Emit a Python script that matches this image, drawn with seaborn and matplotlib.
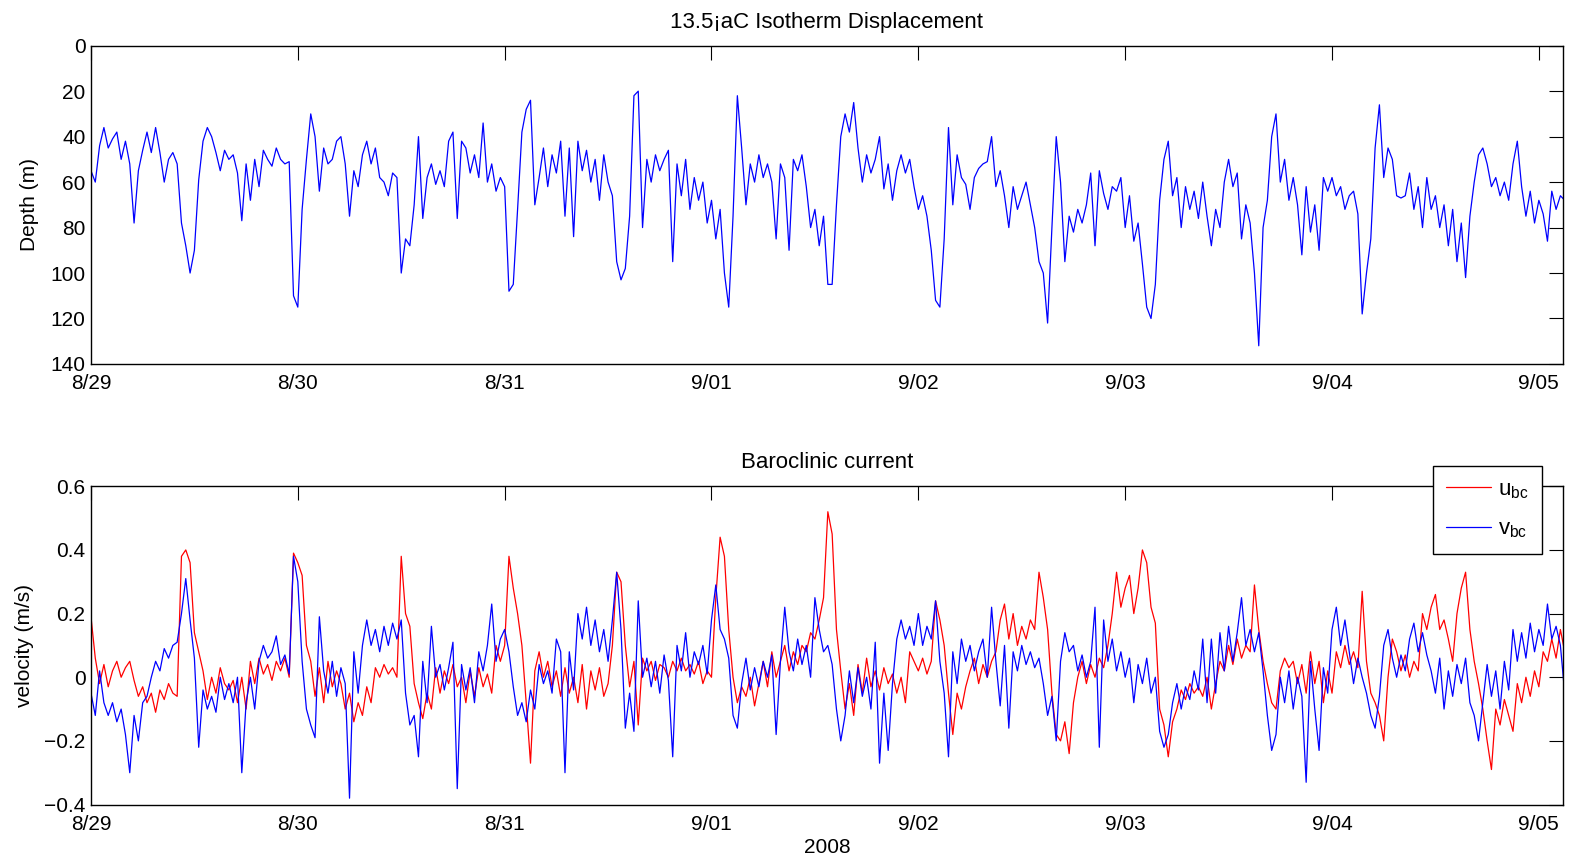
import numpy as np
import pandas as pd
import matplotlib
matplotlib.use("Agg")
import matplotlib.pyplot as plt
import matplotlib.dates as mdates
from matplotlib.ticker import FuncFormatter
import seaborn as sns

# Half-hourly samples starting 2008-08-29 00:00 (one row per day below)
start = "2008-08-29 00:00"
step = "30min"

depth_13p5 = [
    55, 60, 44, 36, 45, 41, 38, 50, 42, 52, 78, 55, 46, 38, 47, 36, 47, 60, 50, 47, 52, 78, 88, 100,
    90, 59, 42, 36, 40, 47, 55, 46, 50, 48, 56, 77, 52, 68, 50, 62, 46, 50, 53, 45, 50, 52, 51, 110,
    115, 72, 50, 30, 40, 64, 45, 52, 50, 42, 40, 52, 75, 55, 62, 48, 42, 52, 45, 58, 60, 66, 56, 58,
    100, 85, 88, 70, 40, 76, 58, 52, 61, 55, 62, 42, 38, 76, 42, 45, 56, 48, 58, 34, 60, 52, 64, 58,
    62, 108, 105, 72, 38, 28, 24, 70, 58, 45, 62, 48, 56, 42, 75, 45, 84, 42, 55, 46, 60, 50, 68, 48,
    60, 66, 95, 103, 98, 75, 22, 20, 80, 50, 60, 48, 55, 50, 46, 95, 52, 66, 50, 72, 58, 68, 60, 78,
    68, 85, 72, 100, 115, 75, 22, 45, 70, 52, 60, 48, 58, 52, 60, 85, 52, 58, 90, 50, 55, 48, 62, 80,
    72, 88, 75, 105, 105, 70, 40, 30, 38, 25, 45, 60, 48, 56, 50, 40, 63, 52, 68, 55, 48, 56, 50, 62,
    72, 66, 75, 90, 112, 115, 85, 36, 70, 48, 58, 61, 72, 58, 54, 52, 51, 40, 62, 55, 66, 80, 62, 72,
    66, 60, 70, 80, 95, 100, 122, 80, 40, 60, 95, 75, 82, 72, 78, 70, 56, 88, 55, 65, 72, 62, 64, 58,
    80, 66, 86, 78, 96, 115, 120, 105, 68, 50, 42, 66, 58, 80, 62, 72, 64, 76, 60, 75, 88, 72, 80, 60,
    50, 62, 56, 85, 70, 78, 100, 132, 80, 68, 40, 30, 60, 50, 68, 58, 70, 92, 62, 82, 70, 90, 58, 64,
    58, 66, 62, 72, 66, 64, 74, 118, 100, 85, 45, 26, 58, 45, 50, 66, 67, 66, 56, 72, 62, 80, 58, 72,
    66, 80, 70, 88, 72, 95, 78, 102, 75, 60, 48, 45, 52, 62, 58, 66, 60, 68, 52, 42, 62, 75, 64, 78,
    68, 74, 86, 64, 72, 66, 68,
]

u_bc = [
    0.19, 0.06, -0.02, 0.04, -0.03, 0.02, 0.05, 0.00, 0.03, 0.05, -0.01, -0.06, -0.03, -0.08, -0.05, -0.11,
    -0.04, -0.07, -0.02, -0.05, -0.06, 0.38, 0.40, 0.36, 0.14, 0.08, 0.02, -0.07, 0.00, -0.05, 0.03, -0.02,
    -0.04, -0.01, -0.08, 0.00, -0.10, 0.05, -0.02, 0.06, 0.01, 0.04, -0.01, 0.05, 0.02, 0.06, 0.00, 0.39,
    0.36, 0.32, 0.10, 0.05, -0.06, 0.03, -0.08, 0.05, -0.03, 0.02, -0.02, -0.10, -0.05, -0.14, -0.08, -0.12,
    -0.03, -0.08, 0.03, 0.00, 0.04, 0.01, 0.03, 0.00, 0.38, 0.20, 0.16, -0.02, -0.08, -0.13, -0.05, -0.10,
    0.03, -0.05, 0.02, -0.02, 0.04, -0.03, 0.00, -0.08, 0.02, -0.06, 0.03, -0.03, 0.01, -0.05, 0.10, 0.05,
    0.10, 0.38, 0.28, 0.20, 0.10, -0.08, -0.27, 0.02, 0.08, 0.00, 0.05, -0.03, 0.02, -0.06, 0.03, -0.05,
    0.00, -0.08, 0.04, -0.10, 0.02, -0.04, 0.03, -0.06, -0.02, 0.10, 0.33, 0.30, 0.10, -0.03, 0.05, -0.15,
    0.06, 0.02, 0.05, -0.01, 0.04, 0.03, 0.00, 0.05, 0.02, 0.06, 0.02, 0.04, 0.01, 0.05, -0.02, 0.02,
    0.00, 0.25, 0.44, 0.38, 0.15, 0.00, -0.08, -0.03, -0.06, 0.00, -0.09, -0.02, 0.05, -0.03, 0.08, 0.00,
    0.05, 0.10, 0.02, 0.08, 0.04, 0.10, 0.08, 0.14, 0.12, 0.18, 0.25, 0.52, 0.45, 0.15, 0.02, -0.10,
    -0.02, -0.12, 0.04, -0.05, 0.06, -0.03, 0.02, -0.04, 0.03, -0.02, 0.01, -0.05, 0.00, -0.08, 0.08, 0.05,
    0.02, 0.06, 0.01, 0.05, 0.24, 0.18, 0.10, -0.05, -0.18, -0.05, -0.10, -0.03, 0.02, 0.06, -0.02, 0.04,
    0.00, 0.05, 0.08, 0.18, 0.23, 0.12, 0.20, 0.10, 0.16, 0.12, 0.18, 0.15, 0.33, 0.25, 0.15, -0.05,
    -0.18, -0.20, -0.14, -0.24, -0.08, 0.00, 0.05, -0.02, 0.04, 0.00, 0.06, 0.03, 0.10, 0.20, 0.33, 0.22,
    0.28, 0.32, 0.20, 0.28, 0.40, 0.36, 0.22, 0.17, -0.10, -0.15, -0.25, -0.14, -0.10, -0.04, -0.07, -0.02,
    -0.05, -0.03, -0.06, 0.00, -0.10, -0.02, 0.05, 0.02, 0.10, 0.04, 0.12, 0.06, 0.10, 0.08, 0.29, 0.15,
    0.05, -0.02, -0.08, -0.10, 0.02, 0.06, 0.03, 0.05, -0.02, 0.04, -0.05, 0.08, -0.02, 0.05, -0.08, 0.02,
    -0.05, 0.08, 0.03, 0.10, 0.04, 0.08, 0.03, 0.27, 0.05, -0.05, -0.08, -0.12, -0.20, 0.00, 0.12, 0.08,
    0.02, 0.07, 0.00, 0.05, 0.02, 0.20, 0.15, 0.22, 0.26, 0.15, 0.18, 0.12, 0.05, 0.20, 0.28, 0.33,
    0.15, 0.05, -0.02, -0.10, -0.20, -0.29, -0.10, -0.15, -0.07, -0.12, -0.17, -0.02, -0.08, 0.00, -0.06, 0.02,
    -0.03, 0.08, 0.05, 0.12, 0.06, 0.15, 0.08,
]

v_bc = [
    -0.05, -0.12, 0.02, -0.08, -0.12, -0.08, -0.14, -0.10, -0.18, -0.30, -0.12, -0.20, -0.08, -0.06, 0.00, 0.05,
    0.02, 0.09, 0.06, 0.10, 0.11, 0.20, 0.31, 0.18, 0.06, -0.22, -0.04, -0.10, -0.06, -0.11, 0.00, -0.07,
    -0.02, -0.08, 0.00, -0.30, -0.08, 0.00, -0.10, 0.05, 0.10, 0.06, 0.08, 0.13, 0.04, 0.07, 0.01, 0.38,
    0.30, 0.05, -0.10, -0.15, -0.19, 0.19, 0.02, -0.05, 0.05, -0.06, 0.03, -0.02, -0.38, 0.08, -0.05, 0.10,
    0.18, 0.10, 0.15, 0.08, 0.16, 0.10, 0.17, 0.12, 0.18, -0.05, -0.15, -0.12, -0.25, 0.05, -0.08, 0.16,
    0.00, 0.04, -0.04, 0.03, 0.11, -0.35, 0.04, -0.04, 0.03, -0.08, 0.08, 0.02, 0.10, 0.23, 0.05, 0.12,
    0.15, 0.08, -0.03, -0.12, -0.08, -0.14, -0.04, -0.10, 0.04, -0.02, 0.02, -0.05, 0.12, 0.08, -0.30, 0.08,
    -0.04, 0.20, 0.12, 0.22, 0.10, 0.18, 0.08, 0.15, 0.05, 0.18, 0.33, 0.15, -0.16, -0.05, -0.17, 0.24,
    0.00, 0.06, -0.03, 0.05, -0.05, 0.07, -0.01, -0.25, 0.10, 0.02, 0.14, 0.00, 0.08, 0.04, 0.10, 0.01,
    0.18, 0.29, 0.15, 0.12, 0.06, -0.12, -0.16, -0.02, 0.06, -0.04, 0.03, -0.03, 0.05, 0.00, 0.07, -0.18,
    0.05, 0.22, 0.08, 0.02, 0.12, 0.04, 0.10, 0.00, 0.25, 0.15, 0.08, 0.10, 0.04, -0.10, -0.20, -0.12,
    0.02, -0.08, 0.03, -0.06, 0.00, -0.10, 0.11, -0.27, -0.05, -0.23, -0.02, 0.12, 0.18, 0.12, 0.16, 0.10,
    0.20, 0.10, 0.16, 0.12, 0.24, 0.05, -0.05, -0.25, 0.08, -0.02, 0.12, 0.05, 0.10, 0.02, 0.08, 0.12,
    0.00, 0.22, 0.05, -0.09, 0.10, -0.16, 0.08, 0.02, 0.10, 0.04, 0.08, 0.03, 0.06, -0.02, -0.12, -0.06,
    -0.20, 0.05, 0.14, 0.08, 0.10, 0.02, 0.07, 0.00, 0.05, 0.22, -0.22, 0.18, 0.05, 0.12, 0.02, 0.08,
    0.00, 0.06, -0.08, 0.04, -0.02, 0.06, -0.05, 0.00, -0.17, -0.22, -0.18, -0.08, -0.02, -0.10, -0.03, -0.07,
    0.02, -0.04, 0.12, -0.08, 0.12, -0.05, 0.14, 0.02, 0.16, 0.05, 0.14, 0.25, 0.10, 0.15, 0.08, 0.14,
    0.02, -0.12, -0.23, -0.18, 0.00, -0.08, 0.02, -0.10, 0.00, -0.06, -0.33, 0.05, -0.10, -0.23, 0.03, -0.05,
    0.15, 0.22, 0.10, 0.18, 0.08, -0.02, 0.06, 0.00, -0.05, -0.12, -0.16, -0.06, 0.10, 0.15, 0.06, 0.00,
    0.07, 0.02, 0.12, 0.17, 0.08, 0.14, 0.07, 0.02, -0.05, 0.06, -0.10, 0.02, -0.06, 0.04, -0.02, 0.06,
    -0.08, -0.12, -0.20, -0.08, 0.04, -0.06, 0.02, -0.10, 0.05, -0.04, 0.15, 0.05, 0.14, 0.06, 0.17, 0.08,
    0.15, 0.10, 0.23, 0.12, 0.16, 0.10, -0.05,
]

day_ticks = ["2008-08-29", "2008-08-30", "2008-08-31", "2008-09-01",
             "2008-09-02", "2008-09-03", "2008-09-04", "2008-09-05"]
depth_ticks = [0, 20, 40, 60, 80, 100, 120, 140]
vel_ticks = [-0.4, -0.2, 0, 0.2, 0.4, 0.6]

time = pd.date_range(start, periods=len(depth_13p5), freq=step)
df = pd.DataFrame({"time": time, "depth": depth_13p5, "u": u_bc, "v": v_bc})

sns.set_style("white")
plt.rcParams["font.family"] = ["Liberation Sans", "DejaVu Sans"]
plt.rcParams["mathtext.default"] = "regular"
plt.rcParams["axes.linewidth"] = 1.0
plt.rcParams["text.color"] = "black"
plt.rcParams["axes.labelcolor"] = "black"
plt.rcParams["xtick.color"] = "black"
plt.rcParams["ytick.color"] = "black"

fs_tick = 15
fs_label = 15
fs_title = 16
fig = plt.figure(figsize=(15.74, 8.59), dpi=100)
ax1 = fig.add_axes([0.0578, 0.5763, 0.9352, 0.3705])
ax2 = fig.add_axes([0.0578, 0.0634, 0.9352, 0.3705])

lw = 0.9
sns.lineplot(data=df, x="time", y="depth", ax=ax1, color="#0000ff", linewidth=lw)
sns.lineplot(data=df, x="time", y="u", ax=ax2, color="#ff0000", linewidth=lw, label="u$_{bc}$")
sns.lineplot(data=df, x="time", y="v", ax=ax2, color="#0000ff", linewidth=lw, label="v$_{bc}$")

xmin = pd.Timestamp(start)
xmax = xmin + pd.Timedelta(hours=170.8)
day_pos = [pd.Timestamp(d) for d in day_ticks]


def day_label(val, pos):
    d = mdates.num2date(val)
    return "{}/{:02d}".format(d.month, d.day)


for ax in (ax1, ax2):
    ax.set_xlim(xmin, xmax)
    ax.set_xticks(day_pos)
    ax.xaxis.set_major_formatter(FuncFormatter(day_label))
    ax.tick_params(direction="in", length=10, width=0.8, top=True, right=True,
                   labelsize=fs_tick, pad=4, colors="black")
    ax.tick_params(axis="x", pad=7.5)
    for s in ax.spines.values():
        s.set_visible(True)
        s.set_color("black")
        s.set_linewidth(1.0)

ax1.set_ylim(140, 0)
ax1.set_yticks(depth_ticks)
ax1.set_xlabel("")
ax1.set_ylabel("Depth (m)", fontsize=fs_label, labelpad=8, color="black")
ax1.set_title("13.5\u00a1aC Isotherm Displacement", fontsize=fs_title, pad=13, color="black")


def vel_label(val, pos):
    if abs(val) < 1e-9:
        return "0"
    return ("\u2212" if val < 0 else "") + "{:.1f}".format(abs(val))


ax2.set_ylim(-0.4, 0.6)
ax2.set_yticks(vel_ticks)
ax2.yaxis.set_major_formatter(FuncFormatter(vel_label))
ax2.set_xlabel("2008", fontsize=fs_label, labelpad=3, color="black")
ax2.set_ylabel("velocity (m/s)", fontsize=fs_label, labelpad=7, color="black")
ax2.set_title("Baroclinic current", fontsize=fs_title, pad=13, color="black")

leg = ax2.legend(loc="upper right", bbox_to_anchor=(0.986, 1.064), borderaxespad=0,
                 fontsize=16, frameon=True, fancybox=False, framealpha=1, edgecolor="black",
                 handlelength=2.0, borderpad=0.6, labelspacing=0.8, handletextpad=0.35)
leg.get_frame().set_linewidth(1.0)
for t in leg.get_texts():
    t.set_color("black")

fig.savefig("out.png", dpi=100, facecolor="white")
